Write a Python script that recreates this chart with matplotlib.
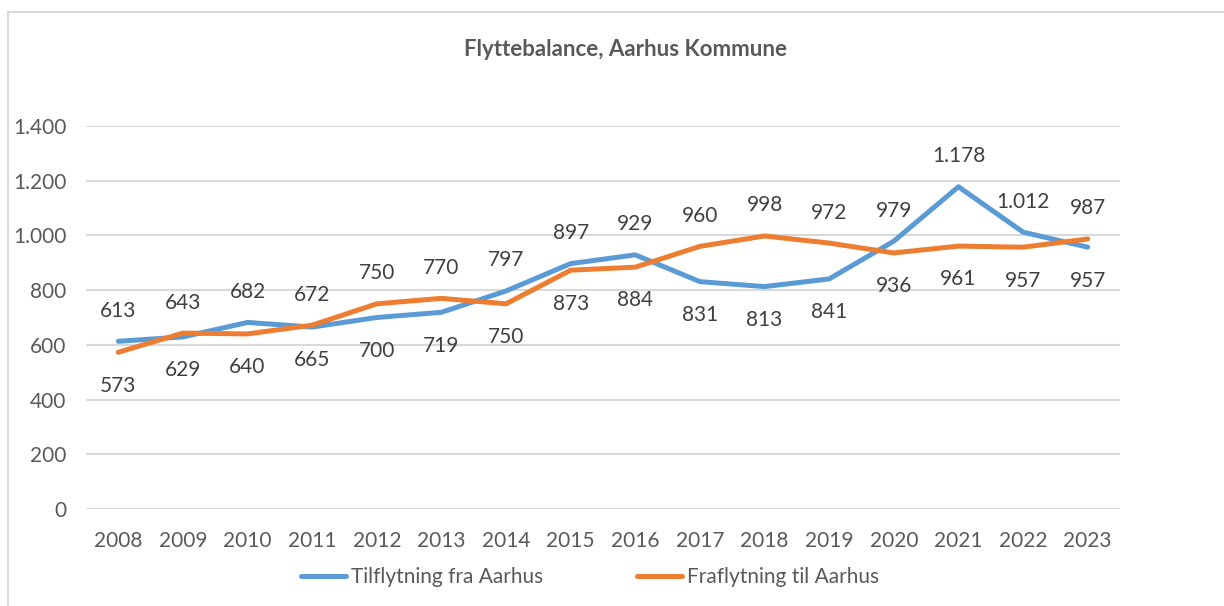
import matplotlib
matplotlib.use("Agg")
import matplotlib.pyplot as plt
from matplotlib.patches import Rectangle
from matplotlib.ticker import FuncFormatter

years = [str(y) for y in range(2008, 2024)]
tilflytning = [613, 629, 682, 665, 700, 719, 797, 897, 929, 831, 813, 841, 979, 1178, 1012, 957]
fraflytning = [573, 643, 640, 672, 750, 770, 750, 873, 884, 960, 998, 972, 936, 961, 957, 987]
series_names = ["Tilflytning fra Aarhus", "Fraflytning til Aarhus"]
title = "Flyttebalance, Aarhus Kommune"
yticks = [0, 200, 400, 600, 800, 1000, 1200, 1400]

BLUE = "#5B9BD5"
ORANGE = "#ED7D31"
TEXT = "#595959"
GRID = "#D9D9D9"

plt.rcParams['font.family'] = ['Lato', 'DejaVu Sans']

W, H = 1224, 606
fig = plt.figure(figsize=(W / 100, H / 100), dpi=100)

def fmt(v):
    return f"{int(v):,}".replace(",", ".")

# chart frame
fig.patches.append(Rectangle((8 / W, -0.05), 1.2, (H - 12) / H + 0.05, transform=fig.transFigure,
                             fill=False, edgecolor=GRID, linewidth=1.5))

left, right = 86, 1120
top, bottom = 126, 509
ax = fig.add_axes([left / W, 1 - bottom / H, (right - left) / W, (bottom - top) / H])
x = list(range(len(years)))
ax.plot(x, tilflytning, color=BLUE, linewidth=3.6, solid_capstyle='round', label=series_names[0], zorder=3)
ax.plot(x, fraflytning, color=ORANGE, linewidth=3.6, solid_capstyle='round', label=series_names[1], zorder=3)

ax.set_xlim(-0.5, len(years) - 0.5)
ax.set_ylim(0, 1400)
ax.set_yticks(yticks)
ax.yaxis.set_major_formatter(FuncFormatter(lambda v, p: fmt(v)))
ax.set_xticks(x)
ax.set_xticklabels(years)
ax.grid(axis='y', color=GRID, linewidth=1.5)
ax.set_axisbelow(True)
for s in ax.spines.values():
    s.set_visible(False)
ax.tick_params(axis='both', length=0, labelsize=15, colors=TEXT)
ax.tick_params(axis='x', pad=16)
ax.tick_params(axis='y', pad=14)

for i in x:
    a, b = tilflytning[i], fraflytning[i]
    for v in (a, b):
        up = v >= max(a, b)
        ax.annotate(fmt(v), (i, v), xytext=(0, 22 if up else -24), textcoords='offset points',
                    ha='center', va='center', fontsize=15, color="#404040", zorder=4)

fig.text(625 / W, 1 - 49 / H, title, ha='center', va='center', fontsize=16,
         fontweight='bold', color=TEXT)

leg = fig.legend(loc='center', bbox_to_anchor=(590 / W, 1 - 577 / H), ncol=2, frameon=False,
                 fontsize=15, handlelength=2.15, handletextpad=0.25, columnspacing=4.5,
                 labelcolor=TEXT)
for ln in leg.get_lines():
    ln.set_linewidth(3.6)

fig.savefig("out.png", dpi=100)
